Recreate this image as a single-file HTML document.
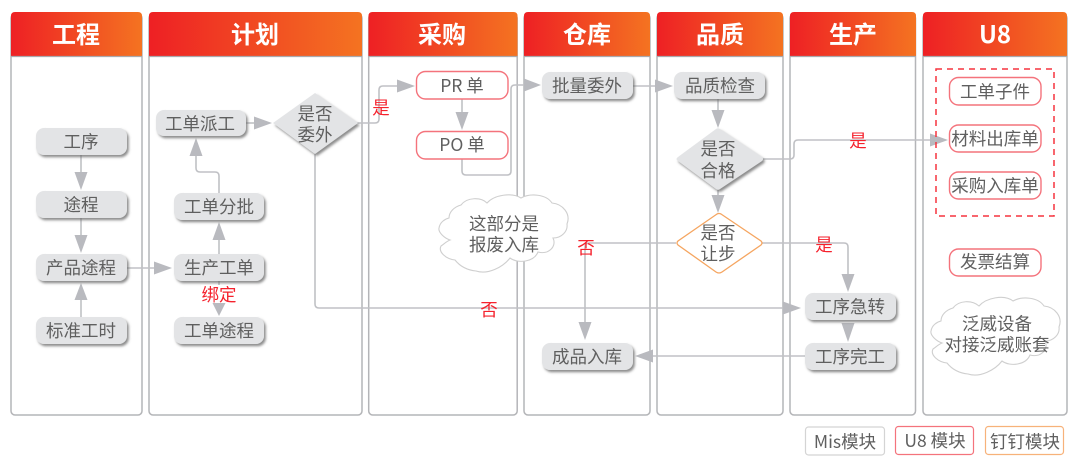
<!DOCTYPE html>
<html><head><meta charset="utf-8"><style>
html,body{margin:0;padding:0;background:#fff;width:1080px;height:463px;overflow:hidden}
svg{display:block}
text{font-family:"Noto Sans CJK SC","Liberation Sans",sans-serif;text-anchor:middle}
.t{font-size:17.5px;fill:#5f5f5f}
.h{font-size:24px;font-weight:700;fill:#fff}
.r{font-size:17.5px;fill:#f5222d}
.c{fill:none;stroke:#c0c1c5;stroke-width:1.6;stroke-linejoin:round}
.a{fill:#b9babf}
.col{fill:#fff;stroke:#b4b5b8;stroke-width:1.5}
.g{fill:#e3e4e6;filter:url(#s)}
.w{fill:#fff;stroke:#f4737c;stroke-width:1.4}
.cl{fill:#fff;stroke:#cfcfcf;stroke-width:1.1}
</style></head><body>
<svg width="1080" height="463" viewBox="0 0 1080 463" xmlns="http://www.w3.org/2000/svg">
<defs>
<linearGradient id="hg" x1="0" x2="1" y1="0" y2="0"><stop offset="0" stop-color="#ee2024"/><stop offset="1" stop-color="#f47321"/></linearGradient>
<filter id="s" x="-20%" y="-30%" width="140%" height="170%"><feDropShadow dx="1.8" dy="2.2" stdDeviation="1.3" flood-color="#666" flood-opacity=".75"/></filter>
</defs>

<!-- columns -->
<rect class="col" x="11" y="14" width="131" height="401" rx="4"/>
<rect class="col" x="149" y="14" width="213" height="401" rx="4"/>
<rect class="col" x="368.7" y="14" width="148.5" height="401" rx="4"/>
<rect class="col" x="524" y="14" width="126" height="401" rx="4"/>
<rect class="col" x="657" y="14" width="126" height="401" rx="4"/>
<rect class="col" x="790" y="14" width="125.5" height="401" rx="4"/>
<rect class="col" x="923" y="14" width="144" height="401" rx="4"/>

<!-- headers -->
<path fill="url(#hg)" d="M11 56V16q0-4 4-4h123q4 0 4 4v40z"/>
<path fill="url(#hg)" d="M149 56V16q0-4 4-4h205q4 0 4 4v40z"/>
<path fill="url(#hg)" d="M368.500 56V16q0-4 4-4h141q4 0 4 4v40z"/>
<path fill="url(#hg)" d="M524 56V16q0-4 4-4h118q4 0 4 4v40z"/>
<path fill="url(#hg)" d="M657 56V16q0-4 4-4h118q4 0 4 4v40z"/>
<path fill="url(#hg)" d="M790 56V16q0-4 4-4h118q4 0 4 4v40z"/>
<path fill="url(#hg)" d="M923 56V16q0-4 4-4h136q4 0 4 4v40z"/>
<g stroke="#a9a9ad" stroke-width="1.2"><path d="M11 56.500h131M149 56.500h213M368.500 56.500h149M524 56.500h126M657 56.500h126M790 56.500h126M923 56.500h144"/></g>
<text class="h" x="76" y="43">工程</text>
<text class="h" x="255" y="43">计划</text>
<text class="h" x="442" y="43">采购</text>
<text class="h" x="587" y="43">仓库</text>
<text class="h" x="720" y="43">品质</text>
<text class="h" x="853" y="43">生产</text>
<text class="h" x="995" y="43">U8</text>

<!-- connectors -->
<g class="c">
<path d="M81 155V175"/><path d="M81 218V240"/><path d="M81 300V317"/>
<path d="M127 268H156"/>
<path d="M219 254V235"/>
<path d="M219 281V306"/>
<path d="M219 193V176q0-4-4-4h-15q-4 0-4-4V152"/>
<path d="M246 123H256"/>
<path d="M357 123H375q4 0 4-4V90q0-4 4-4H400"/>
<path d="M462 99V115"/>
<path d="M462 159V171q0 4 4 4h41q4 0 4-4V89q0-4 4-4H526"/>
<path d="M633 86H657"/>
<path d="M718 99V113"/>
<path d="M718 188V197"/>
<path d="M763 159H790q4 0 4-4V144q0-4 4-4H932"/>
<path d="M762 243H844q4 0 4 4V276"/>
<path d="M676 243H589q-4 0-4 4V324"/>
<path d="M315 153V304q0 4 4 4H786"/>
<path d="M805 356H650"/>
</g>
<g class="a">
<path d="M81 190L74.500 172H87.500z"/>
<path d="M81 253L74.500 235H87.500z"/>
<path d="M81 283L74.500 300H87.500z"/>
<path d="M172 268L154 261.500V274.500z"/>
<path d="M219 222L212.500 240H225.500z"/>
<path d="M219 316L212.500 303H225.500z"/>
<path d="M196 138L189.500 156H202.500z"/>
<path d="M272 123L254 116.500V129.500z"/>
<path d="M415 86L397 79.500V92.500z"/>
<path d="M462 130L455.500 112H468.500z"/>
<path d="M541 85L524 78.500V91.500z"/>
<path d="M673 86L655 79.500V92.500z"/>
<path d="M718 128L711.500 110H724.500z"/>
<path d="M718 213L711.500 195H724.500z"/>
<path d="M948 140L930 133.500V146.500z"/>
<path d="M848 292L841.500 274H854.500z"/>
<path d="M585 340L578.500 322H591.500z"/>
<path d="M801 308L783 301.500V314.500z"/>
<path d="M848 342L841.500 323H854.500z"/>
<path d="M635 356L653 349.500V362.500z"/>
</g>

<!-- grey nodes -->
<g>
<rect class="g" x="36" y="128" width="91" height="27" rx="8"/>
<rect class="g" x="36" y="191" width="91" height="27" rx="8"/>
<rect class="g" x="36" y="254" width="91" height="27" rx="8"/>
<rect class="g" x="36" y="317" width="91" height="27" rx="8"/>
<rect class="g" x="156" y="110" width="90" height="26" rx="8"/>
<rect class="g" x="174" y="193" width="90" height="27" rx="8"/>
<rect class="g" x="174" y="254" width="90" height="27" rx="8"/>
<rect class="g" x="174" y="317" width="90" height="27" rx="8"/>
<rect class="g" x="542" y="72" width="91" height="27" rx="8"/>
<rect class="g" x="674" y="72" width="91" height="27" rx="8"/>
<rect class="g" x="542" y="343" width="91" height="27" rx="8"/>
<rect class="g" x="805" y="293" width="91" height="27" rx="8"/>
<rect class="g" x="805" y="343" width="91" height="27" rx="8"/>
<path class="g" d="M315 93L358 123L315 154L273 123z"/>
<path class="g" d="M716 129Q718 127.500 720 129L762 157Q764 159 762 161L720 189Q718 190.500 716 189L678 161Q675 159 678 157z"/>
</g>
<path d="M717 214Q719 213 721 214L761 241Q763 243 761 245L722 272Q719 274 716 272L678 245Q676 243 678 241z" fill="#fff" stroke="#f5a560" stroke-width="1.3"/>

<!-- outlined nodes -->
<rect class="w" x="416.500" y="71.500" width="91.500" height="27.500" rx="9"/>
<rect class="w" x="416.500" y="131.500" width="91.500" height="27.500" rx="9"/>
<rect class="w" x="949.500" y="77.500" width="91.500" height="27.500" rx="9"/>
<rect class="w" x="949.500" y="125" width="91.500" height="27" rx="9"/>
<rect class="w" x="949.500" y="172" width="91.500" height="27" rx="9"/>
<rect class="w" x="949.500" y="249" width="91.500" height="27" rx="9"/>
<rect x="936" y="69" width="118" height="147" fill="none" stroke="#f5333f" stroke-width="1.5" stroke-dasharray="6 5"/>

<!-- clouds -->
<path class="cl" d="M461 205C467 197 481 197 487 203C494 195 512 192 521 198C530 193 546 194 552 203C563 204 571 214 567 224C568 231 562 238 553 238C557 246 549 255 538 252C534 262 518 264 510 258C503 267 488 275 476 271C466 270 459 265 455 260C446 259 438 252 441 246C444 244 447 241 450 240C444 238 438 232 439 228C440 222 445 219 449 218C449 212 454 207 461 205Z"/>
<path class="cl" d="M953 308C959 300 972 300 979 306C986 298 1004 294 1013 301C1022 296 1038 297 1044 306C1055 307 1063 317 1059 327C1060 334 1054 341 1045 341C1049 349 1041 358 1030 355C1026 365 1010 367 1002 361C995 370 980 378 968 374C958 373 951 368 947 363C938 362 930 355 933 349C936 347 939 344 942 343C936 341 930 335 931 331C932 325 937 322 941 321C941 315 946 310 953 308Z"/>

<!-- node text -->
<g class="t">
<text x="81" y="148">工序</text>
<text x="81" y="211">途程</text>
<text x="81" y="274">产品途程</text>
<text x="81" y="337">标准工时</text>
<text x="200" y="130">工单派工</text>
<text x="219" y="213">工单分批</text>
<text x="219" y="274">生产工单</text>
<text x="219" y="337">工单途程</text>
<text x="315" y="120">是否</text>
<text x="315" y="141">委外</text>
<text x="462" y="92">PR 单</text>
<text x="462" y="151">PO 单</text>
<text x="587" y="92">批量委外</text>
<text x="720" y="92">品质检查</text>
<text x="718" y="155">是否</text>
<text x="718" y="177">合格</text>
<text x="718" y="239">是否</text>
<text x="718" y="260">让步</text>
<text x="587" y="363">成品入库</text>
<text x="850" y="313">工序急转</text>
<text x="850" y="363">工序完工</text>
<text x="995" y="98">工单子件</text>
<text x="995" y="145">材料出库单</text>
<text x="995" y="192">采购入库单</text>
<text x="995" y="268">发票结算</text>
<text x="504" y="230">这部分是</text>
<text x="504" y="251">报废入库</text>
<text x="997" y="330">泛威设备</text>
<text x="997" y="351">对接泛威账套</text>
</g>

<!-- red labels -->
<rect x="201" y="285" width="36" height="18" fill="#fff"/>
<text class="r" x="219" y="301">绑定</text>
<text class="r" x="381" y="114">是</text>
<text class="r" x="586" y="254">否</text>
<text class="r" x="489" y="316">否</text>
<text class="r" x="858" y="147">是</text>
<text class="r" x="824" y="251">是</text>

<!-- legend -->
<rect x="805.500" y="427" width="79" height="28" rx="3" fill="#fff" stroke="#d4d4d4" stroke-width="1.2"/>
<rect x="895.500" y="426.500" width="78" height="28" rx="3" fill="#fff" stroke="#f4737c" stroke-width="1.2"/>
<rect x="985.500" y="426.500" width="78" height="28" rx="3" fill="#fff" stroke="#f7b27a" stroke-width="1.2"/>
<g class="t">
<text x="845" y="448">Mis模块</text>
<text x="935" y="447">U8 模块</text>
<text x="1025" y="448">钉钉模块</text>
</g>
</svg>
</body></html>
